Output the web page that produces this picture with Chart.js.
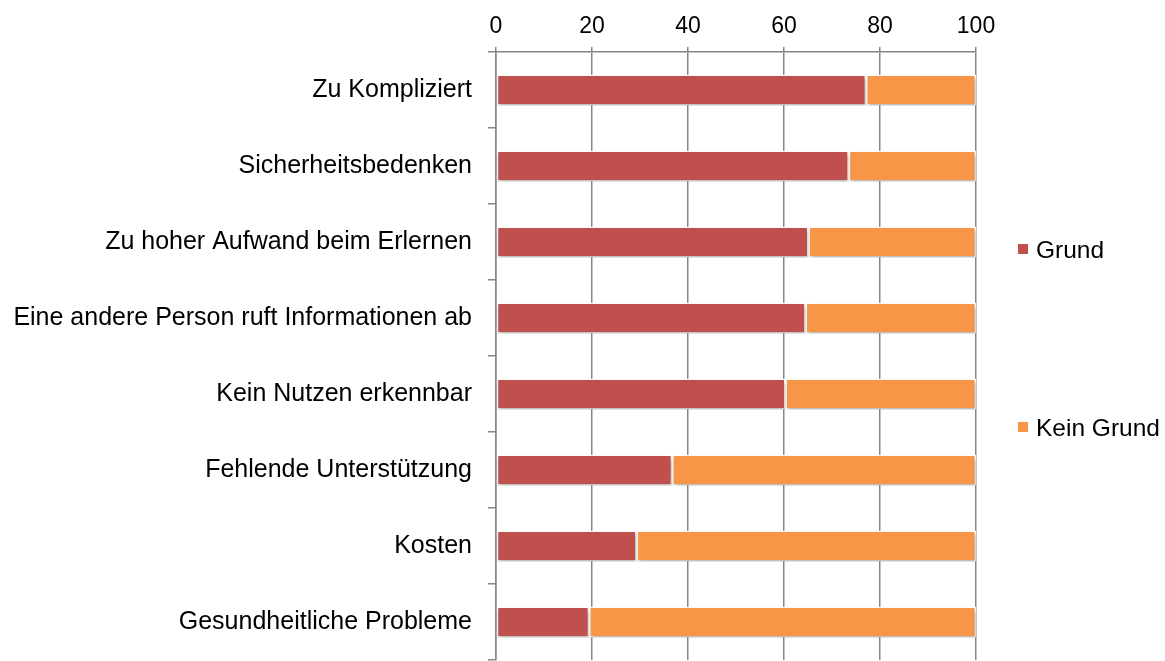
<!DOCTYPE html>
<html>
<head>
<meta charset="utf-8">
<script src="https://cdn.jsdelivr.net/npm/chart.js@4"></script>
<style>
  html, body { margin: 0; padding: 0; background: #fff; }
  #wrap { position: relative; width: 1165px; height: 661px; }
</style>
</head>
<body>
<div id="wrap"><canvas id="c"></canvas></div>
<script>
const categories = [
  "Zu Kompliziert",
  "Sicherheitsbedenken",
  "Zu hoher Aufwand beim Erlernen",
  "Eine andere Person ruft Informationen ab",
  "Kein Nutzen erkennbar",
  "Fehlende Unterstützung",
  "Kosten",
  "Gesundheitliche Probleme"
];
const grund = [77.1, 73.5, 65.1, 64.5, 60.3, 36.7, 29.3, 19.4];
const keinGrund = [22.9, 26.5, 34.9, 35.5, 39.7, 63.3, 70.7, 80.6];
const xTicks = [0, 20, 40, 60, 80, 100];
const seriesNames = ["Grund", "Kein Grund"];
const seriesColors = ["#C0504D", "#F79646"];

const FONT = "'Liberation Sans', Arial, Helvetica, sans-serif";
const GRID = "#868686";

const shadowPlugin = {
  id: 'barShadow',
  beforeDatasetsDraw(chart) {
    const ctx = chart.ctx;
    ctx.save();
    ctx.shadowColor = 'rgba(0,0,0,0.28)';
    ctx.shadowBlur = 4;
    ctx.shadowOffsetX = 1;
    ctx.shadowOffsetY = 3;
  },
  afterDatasetsDraw(chart) {
    chart.ctx.restore();
  }
};

const legendPlugin = {
  id: 'customLegend',
  afterDraw(chart) {
    const ctx = chart.ctx;
    const ys = [250, 428];
    ctx.save();
    chart.data.datasets.forEach((ds, i) => {
      const cy = ys[i];
      ctx.fillStyle = ds.backgroundColor;
      ctx.fillRect(1018, cy - 6, 10, 10);
      ctx.fillStyle = '#000';
      ctx.font = "24.5px " + FONT;
      ctx.textAlign = 'left';
      ctx.textBaseline = 'middle';
      ctx.fillText(ds.label, 1036, cy + 1);
    });
    ctx.restore();
  }
};

function zeroPad(scale) {
  scale.paddingTop = 0;
  scale.paddingBottom = 0;
  scale.paddingLeft = 0;
  scale.paddingRight = 0;
}

new Chart(document.getElementById('c'), {
  type: 'bar',
  data: {
    labels: categories,
    datasets: [
      { label: seriesNames[0], data: grund, backgroundColor: seriesColors[0],
        borderColor: '#ffffff', borderWidth: 1.5, borderSkipped: false },
      { label: seriesNames[1], data: keinGrund, backgroundColor: seriesColors[1],
        borderColor: '#ffffff', borderWidth: 1.5, borderSkipped: false }
    ]
  },
  options: {
    indexAxis: 'y',
    responsive: true,
    maintainAspectRatio: false,
    animation: false,
    events: [],
    layout: { padding: { left: 0, right: 189, top: 0, bottom: 1 } },
    datasets: { bar: { categoryPercentage: 1.0, barPercentage: 0.41 } },
    plugins: {
      legend: { display: false },
      tooltip: { enabled: false },
      title: { display: false }
    },
    scales: {
      x: {
        position: 'top',
        stacked: true,
        min: 0,
        max: 100,
        afterBuildTicks(scale) {
          scale.ticks = xTicks.map(v => ({ value: v }));
        },
        afterFit(scale) { scale.height = 52; zeroPad(scale); },
        grid: { color: GRID, lineWidth: 1.5, drawTicks: true, tickLength: 5, tickColor: GRID },
        border: { display: true, color: GRID, width: 1.5 },
        ticks: { color: '#000', font: { family: FONT, size: 23 }, padding: 7, maxRotation: 0 }
      },
      y: {
        stacked: true,
        afterFit(scale) { scale.width = 496; zeroPad(scale); },
        grid: { display: true, drawOnChartArea: false, drawTicks: true, tickLength: 8,
                color: GRID, lineWidth: 1.5, offset: true },
        border: { display: true, color: GRID, width: 1.5 },
        ticks: { color: '#000', font: { family: FONT, size: 25 }, padding: 16 }
      }
    }
  },
  plugins: [shadowPlugin, legendPlugin]
});
</script>
</body>
</html>
